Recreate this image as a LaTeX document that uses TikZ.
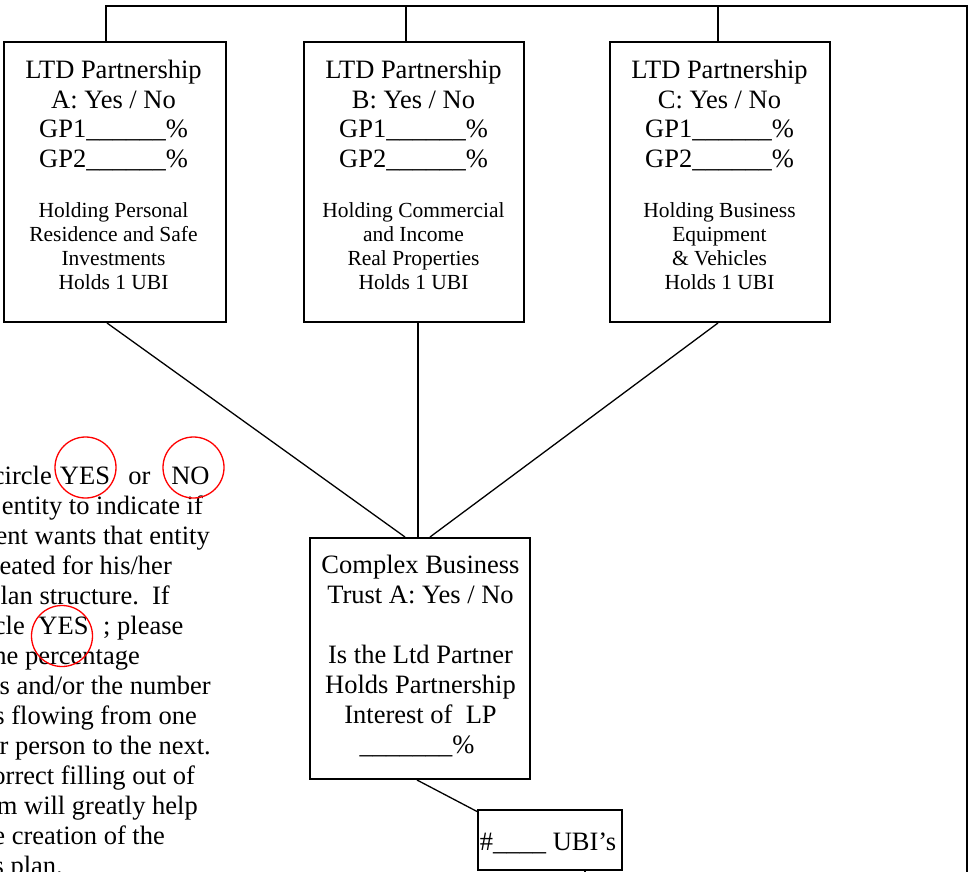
\documentclass[tikz,border=0pt]{standalone}
\usepackage{fontspec}
\setmainfont{Liberation Serif}
\begin{document}
\begin{tikzpicture}[x=1pt,y=-1pt,
  box/.style={draw, line width=2pt, inner sep=0pt},
  conn/.style={line width=1.3pt},
  bus/.style={line width=1.8pt},
  big/.style={font=\fontsize{26.5}{29.5}\selectfont, anchor=base, inner sep=0pt},
  small/.style={font=\fontsize{21.5}{24}\selectfont, anchor=base, inner sep=0pt},
  side/.style={font=\fontsize{26.5}{30}\selectfont, anchor=base east, inner sep=0pt},
  sidew/.style={font=\fontsize{26.5}{30}\selectfont, anchor=base west, inner sep=0pt},
  sidec/.style={font=\fontsize{26.5}{30}\selectfont, anchor=base, inner sep=0pt},
  ring/.style={draw=red, circle, line width=1.3pt, minimum size=61pt, inner sep=0pt}]
\clip (0,0) rectangle (969,872);

% boxes
\node[box, minimum width=222pt, minimum height=280pt] (A) at (115,182) {};
\node[box, minimum width=220pt, minimum height=280pt] (B) at (414,182) {};
\node[box, minimum width=220pt, minimum height=280pt] (C) at (720,182) {};
\node[box, minimum width=220pt, minimum height=241pt] (K) at (420,658.5) {};
\node[box, minimum width=144pt, minimum height=60pt] (U) at (550,840) {};

% box texts
\foreach \t [count=\i] in {LTD Partnership, A: Yes / No, GP1\_\_\_\_\_\_\%, GP2\_\_\_\_\_\_\%}
  \node[big] (a\i) at (113.5, 49.5+29.5*\i) {\t};
\foreach \t [count=\i] in {Holding Personal, Residence and Safe, Investments, Holds 1 UBI}
  \node[small] (as\i) at (113.5, 193+24*\i) {\t};
\foreach \t [count=\i] in {LTD Partnership, B: Yes / No, GP1\_\_\_\_\_\_\%, GP2\_\_\_\_\_\_\%}
  \node[big] (b\i) at (413.5, 49.5+29.5*\i) {\t};
\foreach \t [count=\i] in {Holding Commercial, and Income, Real Properties, Holds 1 UBI}
  \node[small] (bs\i) at (413.5, 193+24*\i) {\t};
\foreach \t [count=\i] in {LTD Partnership, C: Yes / No, GP1\_\_\_\_\_\_\%, GP2\_\_\_\_\_\_\%}
  \node[big] (c\i) at (719.5, 49.5+29.5*\i) {\t};
\foreach \t [count=\i] in {Holding Business, Equipment, \& Vehicles, Holds 1 UBI}
  \node[small] (cs\i) at (719.5, 193+24*\i) {\t};

\node[big] (k1) at (420.5,573) {Complex Business};
\node[big] (k2) at (420.5,603) {Trust A: Yes / No};
\node[big] (k3) at (420.5,663) {Is the Ltd Partner};
\node[big] (k4) at (420.5,693) {Holds Partnership};
\node[big] (k5) at (420.5,723) {Interest of\ \ LP};
\node[big] (k6) at (417,753) {\_\_\_\_\_\_\_\%};
\node[big] (u1) at (548,850) {\#\_\_\_\_ UBI’s};

% bus lines
\coordinate (tA) at (106,6);
\coordinate (tB) at (406,6);
\coordinate (tC) at (718,6);
\coordinate (tR) at (967,6);
\coordinate (bR) at (967,880);
\draw[bus] (A.north -| tA) -- (tA) -- (tR) -- (bR);
\draw[bus] (B.north -| tB) -- (tB);
\draw[bus] (C.north -| tC) -- (tC);

% connectors to complex trust
\coordinate (xa) at (107,0);
\coordinate (xk1) at (405,0);
\coordinate (xb) at (418,0);
\coordinate (xc) at (718,0);
\coordinate (xk3) at (430,0);
\draw[conn] (A.south -| xa) -- (K.north -| xk1);
\draw[conn] (B.south -| xb) -- (K.north -| xb);
\draw[conn] (C.south -| xc) -- (K.north -| xk3);
\coordinate (xk) at (417,0);
\coordinate (ue) at (478,812);
\draw[conn] (K.south -| xk) -- (ue);
\coordinate (xu) at (585,0);
\coordinate (ud) at (585,880);
\draw[conn] (U.south -| xu) -- (ud);

% side note text (cut at the left edge)
\node[side] (s1a) at (52,484) {circle};
\node[sidec] (s1b) at (85,484) {YES};
\node[sidec] (s1c) at (139.5,484) {or};
\node[sidec] (s1d) at (190.5,484) {NO};
\node[side] (s2) at (203,514) {entity to indicate if};
\node[side] (s3) at (210,544) {ent wants that entity};
\node[side] (s4) at (172,574) {eated for his/her};
\node[side] (s5) at (170,604) {lan structure.\ \ If};
\node[side] (s6a) at (25,634) {cle};
\node[sidec] (s6b) at (63.5,634) {YES};
\node[sidew] (s6c) at (103,634) {; please};
\node[side] (s7) at (140,664) {he percentage};
\node[side] (s8) at (211,694) {s and/or the number};
\node[side] (s9) at (197,724) {s flowing from one};
\node[side] (s10) at (211,754) {r person to the next.};
\node[side] (s11) at (195,784) {orrect filling out of};
\node[side] (s12) at (198,814) {m will greatly help};
\node[side] (s13) at (165,844) {e creation of the};
\node[side] (s14) at (63,874) {s plan.};

% red circles
\node[ring] (r1) at (85.5,467.5) {};
\node[ring] (r2) at (193.5,467.5) {};
\node[ring] (r3) at (62,636) {};
\end{tikzpicture}
\end{document}
